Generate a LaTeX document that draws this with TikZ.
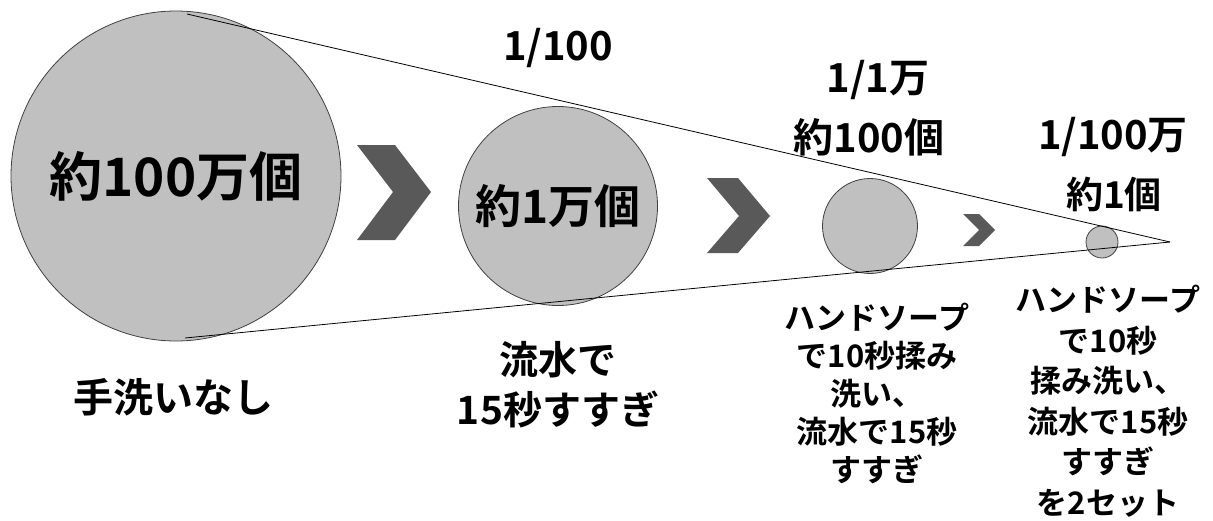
\documentclass[tikz,border=0pt]{standalone}
\usepackage{fontspec}
\newfontfamily\jp{Noto Sans CJK JP}[BoldFont={Noto Sans CJK JP Bold}]
\definecolor{ballfill}{HTML}{C0C0C0}
\definecolor{balldraw}{HTML}{404040}
\definecolor{chevfill}{HTML}{595959}
\tikzset{
  ball/.style={circle, draw=balldraw, fill=ballfill, line width=0.8pt, inner sep=0pt, font=\jp\bfseries},
  chev/.style={fill=chevfill, draw=none},
  cone/.style={draw=black, line width=0.8pt},
  lbl/.style={align=center, inner sep=0pt},
}
\newcommand{\fs}[2]{\jp\bfseries\fontsize{#1}{#2}\selectfont}
\begin{document}
\begin{tikzpicture}[x=1pt,y=-1pt]
\useasboundingbox (0,0) rectangle (1213,520);
% circles
\node[ball, minimum size=330pt] (c1) at (176,176) {\fontsize{53}{60}\selectfont 約100万個};
\node[ball, minimum size=199pt] (c2) at (558,206) {\fontsize{46}{50}\selectfont 約1万個};
\node[ball, minimum size=95pt] (c3) at (870,226) {};
\node[ball, minimum size=32pt] (c4) at (1102,242) {};
% cone
\coordinate (apex) at (1170,242);
\coordinate (t1) at (187,14);
\coordinate (b1) at (185,338);
\draw[cone] (t1) -- (apex);
\draw[cone] (b1) -- (apex);
% chevrons
\fill[chev] (357,145) -- (395,145) -- (431,192) -- (395,240) -- (357,240) -- (393,192) -- cycle;
\fill[chev] (707,178) -- (738,178) -- (770,216) -- (738,253) -- (707,253) -- (739,216) -- cycle;
\fill[chev] (963,214) -- (979,214) -- (995,230) -- (979,246) -- (963,246) -- (979,230) -- cycle;
% ratio labels
\node[lbl, font=\fs{40}{44}] (r2) at (558,48) {1/100};
\node[lbl, font=\fs{40}{44}] (r3a) at (878,80) {1/1万};
\node[lbl, font=\fs{40}{44}] (r3b) at (869,137) {約100個};
\node[lbl, font=\fs{40}{44}] (r4a) at (1113,137) {1/100万};
\node[lbl, font=\fs{37}{40}] (r4b) at (1114,194) {約1個};
% captions
\node[lbl, font=\fs{40}{50}] (d1) at (173,397) {手洗いなし};
\node[lbl, font=\fs{39}{50}] (d2) at (558,385) {流水で\\15秒すすぎ};
\node[lbl, font=\fs{31}{38}] (d3) at (877,393) {ハンドソープ\\で10秒揉み\\洗い、\\流水で15秒\\すすぎ};
\node[lbl, font=\fs{31}{40.5}] (d4) at (1108,401) {ハンドソープ\\で10秒\\揉み洗い、\\流水で15秒\\すすぎ\\を2セット};
\end{tikzpicture}
\end{document}
